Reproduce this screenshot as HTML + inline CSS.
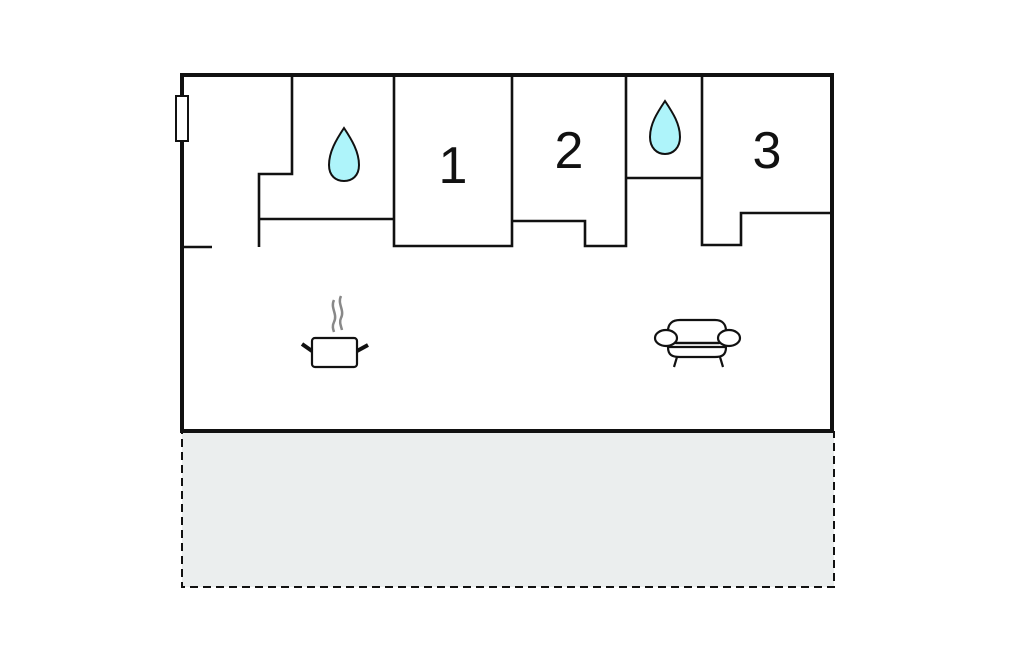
<!DOCTYPE html>
<html><head><style>body{margin:0;background:#fff}</style></head><body>
<svg width="1024" height="652" xmlns="http://www.w3.org/2000/svg">
<rect x="182" y="432" width="652" height="155" fill="#ebeeee" stroke="#111" stroke-width="2" stroke-dasharray="8,5"/>
<rect x="182" y="75" width="650" height="356" fill="#fff" stroke="#111" stroke-width="4"/>
<g stroke="#111" stroke-width="2.6" fill="none">
<path d="M184 247H212"/>
<path d="M259 247V174H292V77"/>
<path d="M259 219H394"/>
<path d="M394 77V246H512V77"/>
<path d="M512 221H585V246H626V77"/>
<path d="M626 178H702"/>
<path d="M702 77V245H741V213H831"/>
</g>
<rect x="176" y="96" width="12" height="45" fill="#fff" stroke="#111" stroke-width="2"/>
<path d="M344 128 C336 140 329 152 329 165 C329 176 336 181 344 181 C352 181 359 176 359 165 C359 152 352 140 344 128Z" fill="#aef4fa" stroke="#111" stroke-width="2"/>
<path d="M665 101 C657 113 650 124 650 137 C650 148 657 154 665 154 C673 154 680 148 680 137 C680 124 673 113 665 101Z" fill="#aef4fa" stroke="#111" stroke-width="2"/>
<g font-family="Liberation Sans, sans-serif" font-size="52" fill="#111" text-anchor="middle">
<text x="453" y="183">1</text>
<text x="569" y="168">2</text>
<text x="767" y="168">3</text>
</g>
<g stroke="#888" stroke-width="2.5" fill="none">
<path d="M334 300 C330 308 338 314 334 322 C332 326 333 329 334 332"/>
<path d="M341 296 C337 304 345 310 341 318 C339 322 341 326 342 330"/>
</g>
<rect x="312" y="338" width="45" height="29" rx="3" fill="#fff" stroke="#111" stroke-width="2.2"/>
<path d="M302 344L312 351M357 351L368 345" stroke="#111" stroke-width="4"/>
<g stroke="#111" stroke-width="2.2" fill="#fff">
<path d="M668 343V331C668 324 672 320 680 320H715C722 320 726 324 726 331V343Z"/>
<path d="M668 347C668 355 672 357 680 357H715C722 357 726 355 726 347Z"/>
<path d="M677 357L674 367M720 357L723 367"/>
<ellipse cx="666" cy="338" rx="11" ry="8"/>
<ellipse cx="729" cy="338" rx="11" ry="8"/>
<path d="M676 343H719"/>
</g>
</svg>
</body></html>
